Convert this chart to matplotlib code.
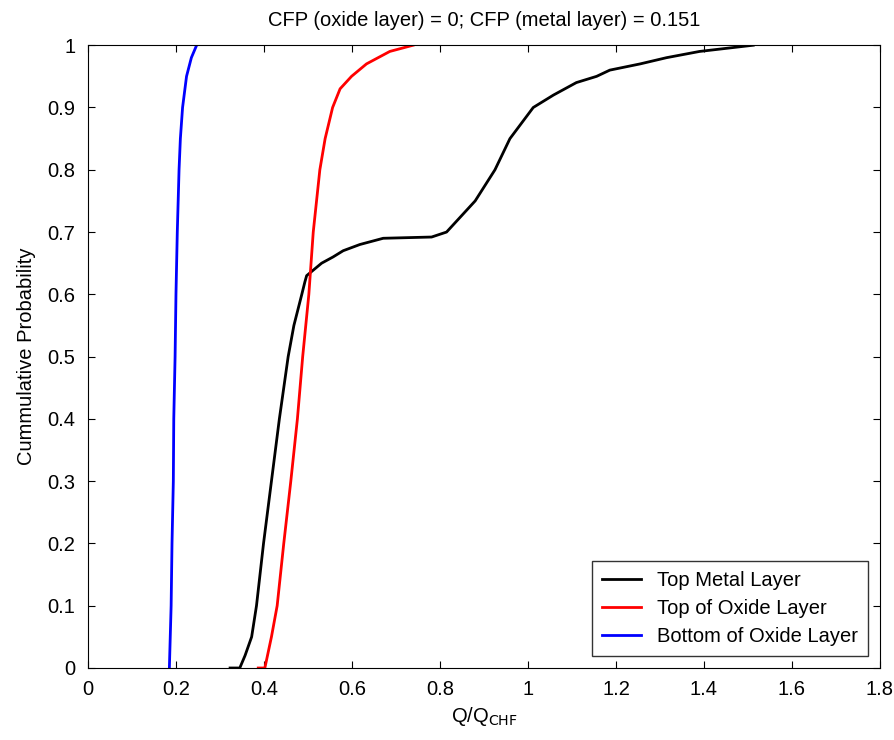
import numpy as np
import matplotlib.pyplot as plt

plt.rcParams['font.family'] = ['Liberation Sans', 'DejaVu Sans']

# valori (Q/QCHF, probabilita cumulativa)
metal_x = [0.323, 0.345, 0.357, 0.372, 0.383, 0.399, 0.417, 0.435, 0.455, 0.468, 0.486, 0.493,
           0.497, 0.531, 0.557, 0.580, 0.618, 0.671, 0.781, 0.815, 0.841, 0.880, 0.925, 0.959,
           1.012, 1.058, 1.110, 1.156, 1.186, 1.255, 1.315, 1.390, 1.512]
metal_y = [0.0, 0.0, 0.02, 0.05, 0.10, 0.20, 0.30, 0.40, 0.50, 0.55, 0.60, 0.62,
           0.63, 0.65, 0.66, 0.67, 0.68, 0.69, 0.692, 0.70, 0.72, 0.75, 0.80, 0.85,
           0.90, 0.92, 0.94, 0.95, 0.96, 0.97, 0.98, 0.99, 1.0]

oxtop_x = [0.387, 0.402, 0.417, 0.430, 0.445, 0.461, 0.476, 0.488, 0.502, 0.512, 0.527, 0.539,
           0.556, 0.573, 0.599, 0.633, 0.686, 0.739]
oxtop_y = [0.0, 0.0, 0.05, 0.10, 0.20, 0.30, 0.40, 0.50, 0.60, 0.70, 0.80, 0.85,
           0.90, 0.93, 0.95, 0.97, 0.99, 1.0]

oxbot_x = [0.185, 0.189, 0.191, 0.194, 0.195, 0.198, 0.200, 0.203, 0.207, 0.210, 0.215, 0.224,
           0.235, 0.247]
oxbot_y = [0.0, 0.10, 0.20, 0.30, 0.40, 0.50, 0.60, 0.70, 0.80, 0.85, 0.90, 0.95,
           0.98, 1.0]

fs = 14.5

fig = plt.figure(figsize=(8.94, 7.4), dpi=100)
ax = fig.add_axes([0.0984, 0.0973, 0.8859, 0.8416])

ax.plot(metal_x, metal_y, color='black', lw=2, label='Top Metal Layer')
ax.plot(oxtop_x, oxtop_y, color='red', lw=2, label='Top of Oxide Layer')
ax.plot(oxbot_x, oxbot_y, color='blue', lw=2, label='Bottom of Oxide Layer')

ax.set_xlim(0, 1.8)
ax.set_ylim(0, 1)
ax.set_xticks(np.arange(0, 1.81, 0.2))
ax.set_xticklabels(['0', '0.2', '0.4', '0.6', '0.8', '1', '1.2', '1.4', '1.6', '1.8'])
ax.set_yticks(np.arange(0, 1.01, 0.1))
ax.set_yticklabels(['0', '0.1', '0.2', '0.3', '0.4', '0.5', '0.6', '0.7', '0.8', '0.9', '1'])
ax.tick_params(axis='x', pad=9)
ax.tick_params(axis='y', pad=9)
ax.tick_params(direction='in', top=True, right=True, labelsize=fs, length=5)

ax.set_xlabel('Q/Q$_{\\mathrm{CHF}}$', fontsize=fs, labelpad=4)
ax.set_ylabel('Cummulative Probability', fontsize=fs, labelpad=8)
ax.set_title('CFP (oxide layer) = 0; CFP (metal layer) = 0.151', fontsize=fs, pad=14)

leg = ax.legend(loc='lower right', fontsize=fs, fancybox=False, edgecolor='black',
                borderaxespad=0.6, handlelength=1.9, handletextpad=0.8,
                labelspacing=0.45, borderpad=0.5)
leg.get_frame().set_linewidth(1)

plt.savefig('out.png', dpi=100)
